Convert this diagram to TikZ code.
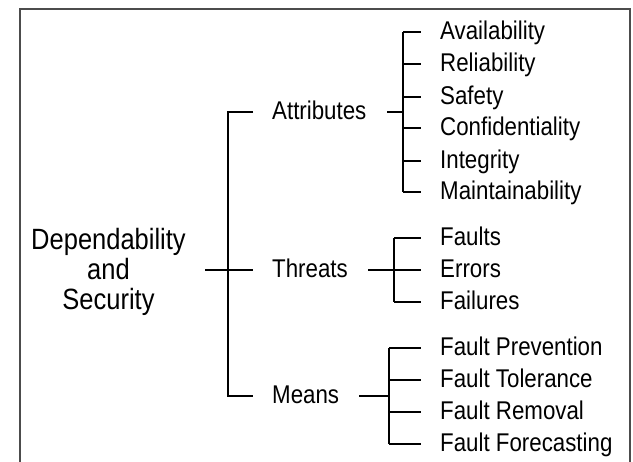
\documentclass[tikz,border=0pt]{standalone}
\usepackage{fontspec}
\setmainfont{Liberation Sans}
\newcommand{\vst}[1]{\scalebox{1}[1.15]{#1}}
\begin{document}
\begin{tikzpicture}[x=1pt,y=-1pt,
  conn/.style={line width=1.8pt,black},
  frame/.style={line width=1.5pt,black!70},
  item/.style={anchor=base west,inner sep=0pt,font=\fontsize{22.3}{27}\selectfont},
  rootlbl/.style={anchor=base,inner sep=0pt,font=\fontsize{25.5}{30}\selectfont}]
\useasboundingbox (0,0) rectangle (633,462);
\draw[frame] (20,470) -- (20,9) -- (630,9) -- (630,470);
% root
\node[rootlbl] (r1) at (108.5,250) {\vst{Dependability}};
\node[rootlbl] (r2) at (108.5,280) {\vst{and}};
\node[rootlbl] (r3) at (108.5,310) {\vst{Security}};
\coordinate (rj) at (205,270);
% main bracket
\coordinate (mtop) at (228,112);
\coordinate (mbot) at (228,396);
\node[item] (att) at (272,120) {\vst{Attributes}};
\node[item] (thr) at (272,278) {\vst{Threats}};
\node[item] (mea) at (272,404) {\vst{Means}};
\coordinate (atte) at (253,112);
\coordinate (thre) at (253,270);
\coordinate (meae) at (253,396);
\draw[conn] (atte) -- (mtop) -- (mbot) -- (meae);
\draw[conn] (rj) -- (thre);
% attributes bracket
\coordinate (aj) at (387,112);
\coordinate (av) at (403,112);
\draw[conn] (aj) -- (av);
\foreach \n/\t/\y in {a1/Availability/32,a2/Reliability/64,a3/Safety/97,a4/Confidentiality/128,a5/Integrity/161,a6/Maintainability/192}{
  \node[item] (\n) at (440,\y+8) {\vst{\t}};
  \coordinate (\n t) at (421,\y);
  \draw[conn] (403,\y) -- (\n t);
}
\draw[conn] (a1t -| av) -- (a6t -| av);
% threats bracket
\coordinate (tj) at (368,270);
\coordinate (tv) at (394,270);
\draw[conn] (tj) -- (tv);
\foreach \n/\t/\y in {t1/Faults/238,t2/Errors/270,t3/Failures/302}{
  \node[item] (\n) at (440,\y+8) {\vst{\t}};
  \coordinate (\n t) at (421,\y);
  \draw[conn] (394,\y) -- (\n t);
}
\draw[conn] (t1t -| tv) -- (t3t -| tv);
% means bracket
\coordinate (mj) at (359,396);
\coordinate (mv) at (389,396);
\draw[conn] (mj) -- (mv);
\foreach \n/\t/\y in {f1/Fault Prevention/348,f2/Fault Tolerance/380,f3/Fault Removal/412,f4/Fault Forecasting/444}{
  \node[item] (\n) at (440,\y+8) {\vst{\t}};
  \coordinate (\n t) at (421,\y);
  \draw[conn] (389,\y) -- (\n t);
}
\draw[conn] (f1t -| mv) -- (f4t -| mv);
\end{tikzpicture}
\end{document}
